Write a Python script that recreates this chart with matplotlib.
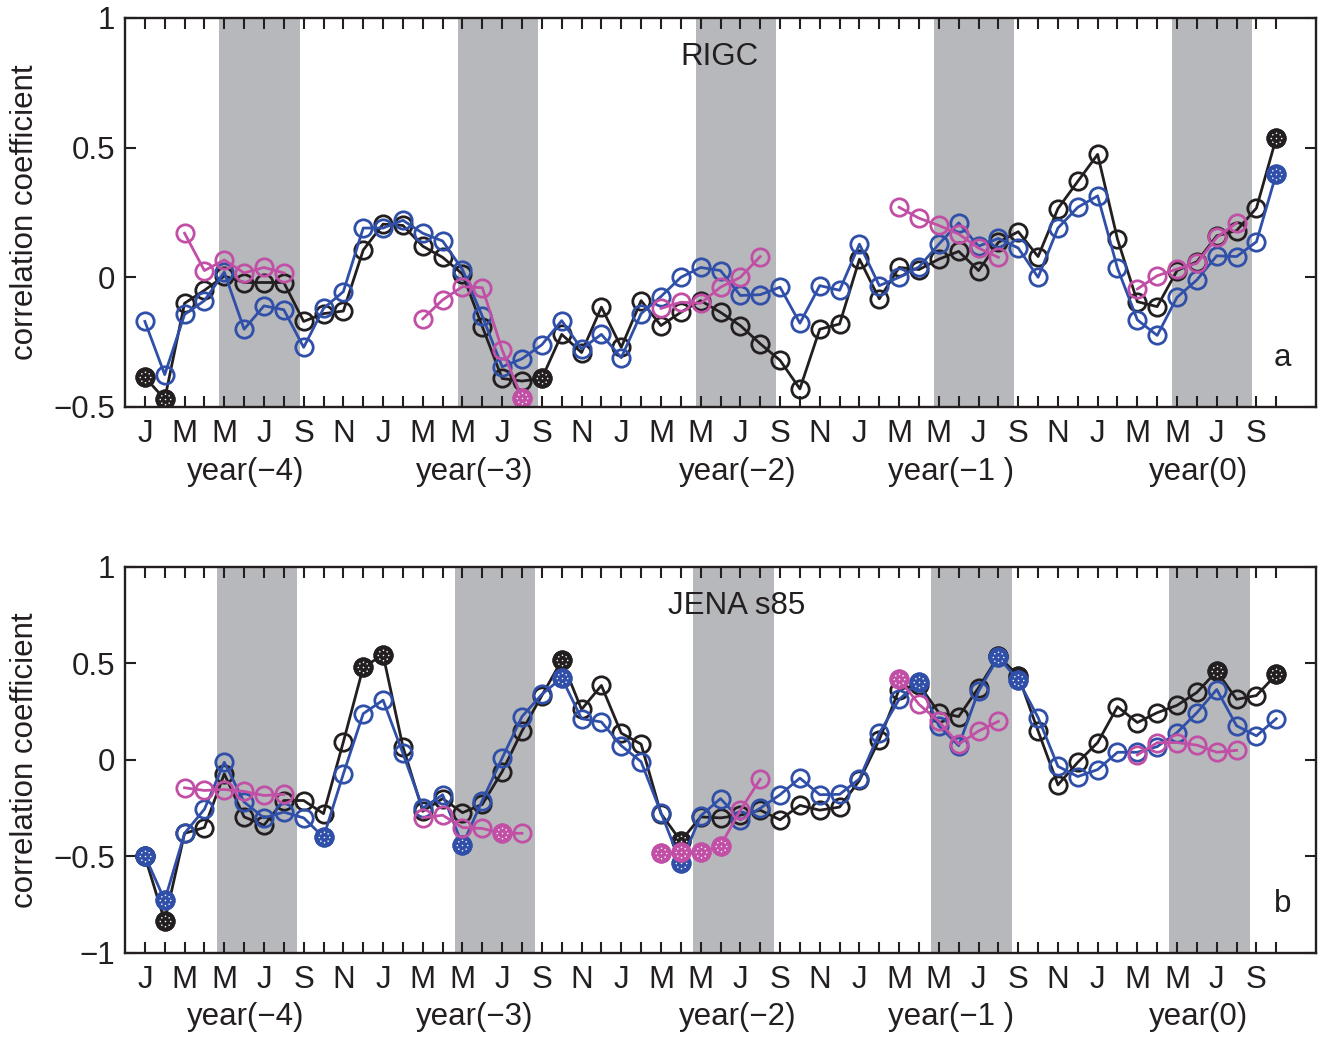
import matplotlib
matplotlib.use("Agg")
import matplotlib.pyplot as plt
import numpy as np
from matplotlib.path import Path

plt.rcParams['font.family'] = ['Liberation Sans', 'DejaVu Sans']

nan = np.nan
months = np.arange(1, 59)

# ---- panel a: RIGC ----
rigc_black = [-0.385, -0.47, -0.10, -0.05, 0.005, -0.02, -0.02, -0.02, -0.17, -0.14,
              -0.13, 0.105, 0.205, 0.20, 0.12, 0.077, 0.013, -0.19, -0.39, -0.40,
              -0.39, -0.22, -0.29, -0.115, -0.27, -0.09, -0.186, -0.135, -0.09, -0.135,
              -0.186, -0.256, -0.32, -0.43, -0.20, -0.18, 0.07, -0.083, 0.038, 0.03,
              0.07, 0.10, 0.026, 0.135, 0.176, 0.08, 0.265, 0.37, 0.474, 0.147,
              -0.094, -0.113, 0.026, 0.06, 0.16, 0.18, 0.267, 0.538]
rigc_blue = [-0.17, -0.375, -0.143, -0.09, 0.02, -0.20, -0.11, -0.125, -0.27, -0.12,
             -0.055, 0.19, 0.19, 0.22, 0.17, 0.14, 0.03, -0.15, -0.345, -0.314,
             -0.26, -0.167, -0.276, -0.22, -0.31, -0.14, -0.074, 0.0, 0.038, 0.026,
             -0.07, -0.067, -0.038, -0.177, -0.032, -0.05, 0.128, -0.032, 0.0, 0.04,
             0.128, 0.21, 0.12, 0.15, 0.113, 0.0, 0.19, 0.27, 0.314, 0.035,
             -0.164, -0.224, -0.077, -0.01, 0.083, 0.08, 0.137, 0.40]
rigc_magenta = [nan, nan, 0.17, 0.026, 0.067, 0.017, 0.038, 0.017, nan, nan,
                nan, nan, nan, nan, -0.16, -0.087, -0.036, -0.04, -0.28, -0.465,
                nan, nan, nan, nan, nan, nan, -0.12, -0.096, -0.10, -0.038,
                0.0, 0.08, nan, nan, nan, nan, nan, nan, 0.27, 0.228,
                0.20, 0.167, 0.113, 0.077, nan, nan, nan, nan, nan, nan,
                -0.045, 0.006, 0.032, 0.054, 0.154, 0.21, nan, nan]
rigc_sig_black = [1, 2, 21, 58]
rigc_sig_blue = [58]
rigc_sig_magenta = [20]

# ---- panel b: JENA s85 ----
jena_black = [-0.50, -0.835, -0.38, -0.35, -0.072, -0.295, -0.338, -0.21, -0.21, -0.278,
              0.094, 0.48, 0.545, 0.069, -0.266, -0.20, -0.273, -0.23, -0.06, 0.15,
              0.334, 0.516, 0.262, 0.386, 0.139, 0.082, -0.278, -0.42, -0.295, -0.30,
              -0.286, -0.26, -0.31, -0.235, -0.26, -0.244, -0.106, 0.105, 0.365, 0.39,
              0.245, 0.225, 0.374, 0.537, 0.437, 0.15, -0.129, -0.012, 0.09, 0.276,
              0.194, 0.245, 0.283, 0.35, 0.46, 0.314, 0.334, 0.443]
jena_blue = [-0.496, -0.727, -0.38, -0.255, -0.012, -0.218, -0.30, -0.27, -0.30, -0.40,
             -0.072, 0.24, 0.31, 0.034, -0.25, -0.18, -0.44, -0.21, 0.01, 0.225,
             0.34, 0.425, 0.214, 0.197, 0.074, -0.009, -0.273, -0.535, -0.29, -0.20,
             -0.31, -0.25, -0.18, -0.094, -0.18, -0.178, -0.098, 0.139, 0.314, 0.405,
             0.177, 0.074, 0.357, 0.533, 0.413, 0.22, -0.033, -0.086, -0.05, 0.04,
             0.04, 0.069, 0.142, 0.245, 0.365, 0.177, 0.125, 0.214]
jena_magenta = [nan, nan, -0.144, -0.158, -0.153, -0.163, -0.184, -0.178, nan, nan,
                nan, nan, nan, nan, -0.30, -0.286, -0.35, -0.355, -0.38, -0.38,
                nan, nan, nan, nan, nan, nan, -0.484, -0.479, -0.479, -0.444,
                -0.26, -0.10, nan, nan, nan, nan, nan, nan, 0.42, 0.288,
                0.20, 0.082, 0.15, 0.20, nan, nan, nan, nan, nan, nan,
                0.026, 0.09, 0.09, 0.077, 0.04, 0.05, nan, nan]
jena_sig_black = [1, 2, 12, 13, 22, 28, 44, 45, 55, 58]
jena_sig_blue = [1, 2, 10, 17, 22, 28, 40, 44, 45]
jena_sig_magenta = [19, 27, 28, 29, 30, 39]

month_letters = ['J', 'M', 'M', 'J', 'S', 'N']
year_labels = ['year(\u22124)', 'year(\u22123)', 'year(\u22122)', 'year(\u22121 )', 'year(0)']
year_pos = [6.1, 17.6, 30.85, 41.6, 54.1]

BLACK = '#231f20'
BLUE = '#2f4fa8'
MAGENTA = '#c14fa5'
SHADE = '#b7b8bc'
FS = 22.5
MS = 12.5

# white dotted pattern for the significant (filled) circles
dots = [Path.circle((0, 0), 0.09)]
for ang in np.linspace(0, 2 * np.pi, 8, endpoint=False):
    dots.append(Path.circle((0.6 * np.cos(ang), 0.6 * np.sin(ang)), 0.09))
dot_marker = Path.make_compound_path(*dots)


def draw_series(ax, y, sig, color, z):
    y = np.array(y, dtype=float)
    ax.plot(months, y, '-', color=color, lw=2.0, marker='o', ms=MS,
            mfc='none', mec=color, mew=2.0, zorder=z)
    idx = np.array(sig) - 1
    ax.plot(months[idx], y[idx], 'o', color=color, ms=MS, mfc=color, mec=color,
            mew=2.0, zorder=z + 0.1)
    ax.plot(months[idx], y[idx], ls='none', marker=dot_marker, ms=MS * 0.69,
            mfc='white', mec='none', zorder=z + 0.2)


def panel(ax, black, blue, magenta, sb, sbl, sm, ylim, yticks, yticklabels,
          shade0, title, title_x, letter):
    for k in range(5):
        ax.axvspan(shade0 + 12 * k, shade0 + 12 * k + 4.05, color=SHADE, lw=0, zorder=0)
    draw_series(ax, black, sb, BLACK, 2)
    draw_series(ax, blue, sbl, BLUE, 3)
    draw_series(ax, magenta, sm, MAGENTA, 4)

    ax.set_xlim(0, 60)
    ax.set_ylim(*ylim)
    odd = np.arange(1, 58, 2)
    ax.set_xticks(odd)
    ax.set_xticklabels([month_letters[i % 6] for i in range(len(odd))])
    ax.set_xticks(np.arange(2, 59, 2), minor=True)
    ax.set_yticks(yticks)
    ax.set_yticklabels(yticklabels)
    ax.tick_params(axis='both', which='both', direction='in', length=8, width=1.5,
                   top=True, right=True, color=BLACK, labelcolor=BLACK, labelsize=FS)
    ax.tick_params(axis='x', which='both', pad=9)
    ax.tick_params(axis='y', pad=7)
    for s in ax.spines.values():
        s.set_linewidth(1.7)
        s.set_color(BLACK)
        s.set_zorder(10)
    ax.set_ylabel('correlation coefficient', fontsize=FS, color=BLACK, labelpad=8)
    ax.yaxis.set_label_coords(-0.071, 0.5)

    tr = ax.get_xaxis_transform()
    for lab, xp in zip(year_labels, year_pos):
        ax.text(xp, -0.166, lab, transform=tr, ha='center', va='center',
                fontsize=FS, color=BLACK)
    ax.text(title_x, 0.90, title, transform=tr, ha='center', va='center',
            fontsize=FS, color=BLACK)
    ax.text(58.3, 0.105, letter, transform=tr, ha='center', va='baseline',
            fontsize=FS, color=BLACK)


fig = plt.figure(figsize=(13.23, 10.38), dpi=100)
ax1 = fig.add_axes([0.0945, 0.6079, 0.9002, 0.3748])
ax2 = fig.add_axes([0.0945, 0.0819, 0.9002, 0.3719])

panel(ax1, rigc_black, rigc_blue, rigc_magenta, rigc_sig_black, rigc_sig_blue,
      rigc_sig_magenta, (-0.5, 1), [-0.5, 0, 0.5, 1],
      ['\u22120.5', '0', '0.5', '1'], 4.75, 'RIGC', 29.95, 'a')
panel(ax2, jena_black, jena_blue, jena_magenta, jena_sig_black, jena_sig_blue,
      jena_sig_magenta, (-1, 1), [-1, -0.5, 0, 0.5, 1],
      ['\u22121', '\u22120.5', '0', '0.5', '1'], 4.62, 'JENA s85', 30.8, 'b')

fig.savefig('out.png', dpi=100)
